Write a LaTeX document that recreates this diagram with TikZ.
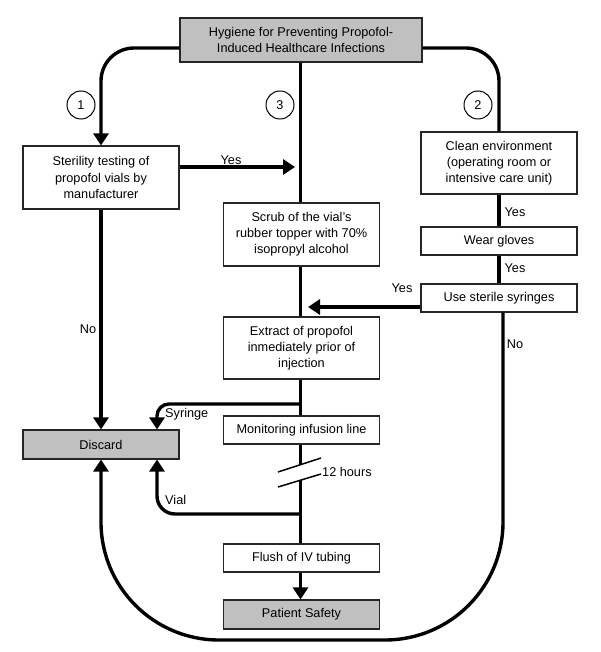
\documentclass[tikz,border=0pt]{standalone}
\usepackage{fontspec}
\setmainfont{Liberation Sans}
\usetikzlibrary{arrows.meta,calc}
\definecolor{boxgray}{HTML}{C0C0C0}
\begin{document}
\begin{tikzpicture}[x=1pt,y=-1pt,
  font=\fontsize{12.7}{16.2}\selectfont,
  box/.style={draw=black!85, line width=1.1pt, fill=white, align=center, inner sep=0pt, minimum width=156pt},
  graybox/.style={box, fill=boxgray},
  circ/.style={draw, circle, line width=1pt, minimum size=28pt, inner sep=0pt},
  flow/.style={line width=3.4pt},
  arr/.style={flow, -{Triangle[width=15pt,length=12pt]}},
  lbl/.style={inner sep=0pt},
  slash/.style={line width=1.5pt}]
\useasboundingbox (0,0) rectangle (600,652);

% nodes
\node[graybox, minimum width=242pt, minimum height=44pt] (title) at (301,40) {Hygiene for Preventing Propofol-\\Induced Healthcare Infections};
\node[box, minimum height=63pt] (steril) at (101,177.5) {Sterility testing of\\propofol vials by\\manufacturer};
\node[box, minimum height=62pt] (clean) at (499,163) {Clean environment\\(operating room or\\intensive care unit)};
\node[box, minimum height=63pt] (scrub) at (301.5,234.5) {Scrub of the vial’s\\rubber topper with 70\%\\isopropyl alcohol};
\node[box, minimum height=28pt] (gloves) at (499,241) {Wear gloves};
\node[box, minimum height=28pt] (syringes) at (499,298) {Use sterile syringes};
\node[box, minimum height=62pt] (extract) at (301.5,348) {Extract of propofol\\inmediately prior of\\injection};
\node[graybox, minimum height=29pt] (discard) at (101,444.5) {Discard};
\node[box, minimum height=28pt] (monitor) at (301.5,430) {Monitoring infusion line};
\node[box, minimum height=28pt] (flush) at (301.5,558) {Flush of IV tubing};
\node[graybox, minimum height=29pt] (safety) at (301.5,614.5) {Patient Safety};

\node[circ] (c1) at (81,105) {1};
\node[circ] (c3) at (280,105) {3};
\node[circ] (c2) at (478,105) {2};

% coordinates
\coordinate (yesend) at (295,167);
\coordinate (synend) at (308,307);
\coordinate (sb) at (300.5,404);
\coordinate (vb) at (300.5,514);
\coordinate (brk1) at (300.5,465);
\coordinate (brk2) at (300.5,480);
\coordinate (botleft) at (101,640);
\coordinate (s1a) at (278,472);
\coordinate (s1b) at (321,458);
\coordinate (s2a) at (278,487);
\coordinate (s2b) at (321,474);

% connectors
\draw[arr, rounded corners=33pt] ([yshift=-8pt]title.west) -| (steril.north);
\draw[flow, rounded corners=33pt] ([yshift=-8pt]title.east) -| (clean.north);
\draw[flow] ([xshift=-0.5pt]title.south) -- ([xshift=-1pt]scrub.north);
\draw[arr] ([yshift=10.5pt]steril.east) -- (yesend);
\draw[flow] (clean.south) -- (gloves.north);
\draw[flow] (gloves.south) -- (syringes.north);
\draw[arr] ([yshift=-9pt]syringes.west) -- (synend);
\draw[flow] ([xshift=-1pt]scrub.south) -- ([xshift=-1pt]extract.north);
\draw[flow] ([xshift=-1pt]extract.south) -- ([xshift=-1pt]monitor.north);
\draw[arr, rounded corners=12pt] (sb) -| ([xshift=56pt]discard.north);
\draw[flow] ([xshift=-1pt]monitor.south) -- (brk1);
\draw[flow] (brk2) -- ([xshift=-1pt]flush.north);
\draw[arr, rounded corners=18pt] (vb) -| ([xshift=56pt]discard.south);
\draw[arr] ([xshift=-1pt]flush.south) -- ([xshift=-1pt]safety.north);
\draw[arr] (steril.south) -- (discard.north);
\draw[arr, rounded corners=118pt] ([xshift=4pt]syringes.south) |- (botleft) -- (discard.south);
\draw[slash] (s1a) -- (s1b);
\draw[slash] (s2a) -- (s2b);

% labels
\node[lbl] at (231,160) {Yes};
\node[lbl] at (515,212) {Yes};
\node[lbl] at (515,268) {Yes};
\node[lbl] at (402,288) {Yes};
\node[lbl] at (88,329) {No};
\node[lbl] at (515,344) {No};
\node[lbl, anchor=west] at (165,414) {Syringe};
\node[lbl, anchor=west] at (165,500) {Vial};
\node[lbl, anchor=west] at (322,472) {12 hours};
\end{tikzpicture}
\end{document}
